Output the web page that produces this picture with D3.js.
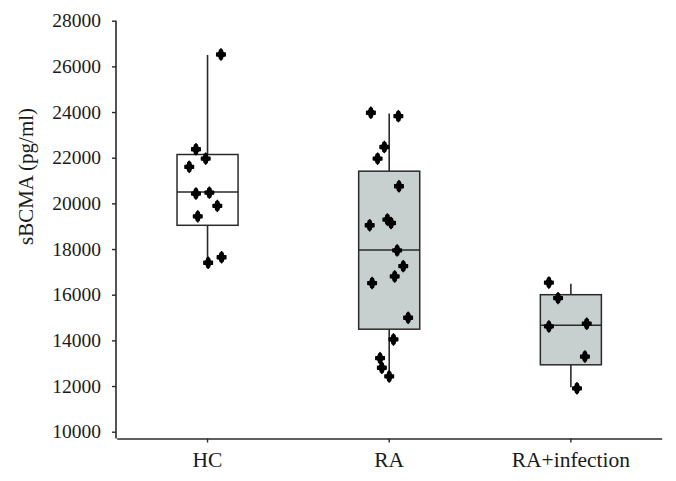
<!DOCTYPE html>
<html>
<head>
<meta charset="utf-8">
<script src="https://cdn.jsdelivr.net/npm/d3@7"></script>
<style>
  html, body { margin: 0; padding: 0; background: #fff; }
  svg { display: block; }
  svg text { font-family: 'Liberation Serif', 'DejaVu Serif', serif !important; fill: #1a1a1a; }
</style>
</head>
<body>
<svg id="chart" width="676" height="481"></svg>
<script>
// ---- data ----
const categories = ["HC", "RA", "RA+infection"];
const boxFill = ["#ffffff", "#c7cfcf", "#c7cfcf"];
const whiskerLow  = [17500, 12380, 11950];
const q1          = [19040, 14490, 12930];
const median      = [20500, 17960, 14660];
const q3          = [22140, 21410, 16000];
const whiskerHigh = [26500, 23940, 16480];

const pointsHC = [26520, 22370, 21960, 21600, 20430, 20470, 19890, 19430, 17400, 17640];
const jitterHC = [0.22, -0.19, -0.03, -0.30, -0.19, 0.03, 0.16, -0.16, 0.01, 0.23];
const pointsRA = [23970, 23820, 22470, 21960, 20750, 19040, 19290, 19140, 17940, 17250, 16800, 16510, 14990, 14040, 13220, 12800, 12420];
const jitterRA = [-0.30, 0.15, -0.08, -0.19, 0.16, -0.32, -0.03, 0.03, 0.13, 0.23, 0.09, -0.28, 0.31, 0.07, -0.15, -0.12, 0.00];
const pointsRAinf = [16530, 15850, 14610, 14730, 13290, 11900];
const jitterRAinf = [-0.36, -0.21, -0.36, 0.26, 0.23, 0.10];

const yTicks = [10000, 12000, 14000, 16000, 18000, 20000, 22000, 24000, 26000, 28000];
const yTitle = "sBCMA (pg/ml)";

// ---- layout ----
const svg = d3.select("#chart");
const axisY = 438.5;
const pad = 0.664;
const x = d3.scaleBand().domain(categories).range([116.7, 661.7])
  .paddingInner(pad).paddingOuter(pad / 2);
const y = d3.scaleLinear().domain([10000, 28000]).range([431.7, 20.7]);
const stroke = "#2a2a2a";
const serif = "'Liberation Serif', 'DejaVu Serif', serif";

const groups = [
  { cat: "HC", pts: pointsHC, jit: jitterHC },
  { cat: "RA", pts: pointsRA, jit: jitterRA },
  { cat: "RA+infection", pts: pointsRAinf, jit: jitterRAinf }
];

// boxes
categories.forEach((c, i) => {
  const cx = x(c) + x.bandwidth() / 2;
  const g = svg.append("g");
  g.append("line").attr("x1", cx).attr("x2", cx)
    .attr("y1", y(whiskerHigh[i])).attr("y2", y(q3[i]))
    .attr("stroke", stroke).attr("stroke-width", 1.6);
  g.append("line").attr("x1", cx).attr("x2", cx)
    .attr("y1", y(q1[i])).attr("y2", y(whiskerLow[i]))
    .attr("stroke", stroke).attr("stroke-width", 1.6);
  g.append("rect").attr("x", x(c)).attr("width", x.bandwidth())
    .attr("y", y(q3[i])).attr("height", y(q1[i]) - y(q3[i]))
    .attr("fill", boxFill[i]).attr("stroke", stroke).attr("stroke-width", 1.5);
  g.append("line").attr("x1", x(c)).attr("x2", x(c) + x.bandwidth())
    .attr("y1", y(median[i])).attr("y2", y(median[i]))
    .attr("stroke", stroke).attr("stroke-width", 1.5);
});

// points
const sym = d3.symbol().type(d3.symbolCross).size(40);
const symD = d3.symbol().type(d3.symbolDiamond).size(36);
groups.forEach(gr => {
  const cx = x(gr.cat) + x.bandwidth() / 2;
  const g = svg.append("g");
  [sym, symD].forEach(s => {
    g.append("g").selectAll("path").data(gr.pts).join("path")
      .attr("d", s)
      .attr("transform", (d, j) => `translate(${cx + gr.jit[j] * x.bandwidth()},${y(d)})`)
      .attr("fill", "#000").attr("stroke", "#000").attr("stroke-width", 1.5)
      .attr("stroke-linejoin", "round");
  });
});

// y axis
const yAxis = svg.append("g").attr("transform", "translate(116,0)")
  .call(d3.axisLeft(y).tickValues(yTicks).tickFormat(d3.format("d")).tickSize(4).tickPadding(11));
yAxis.attr("font-family", serif).attr("font-size", 19.5);
yAxis.select(".domain").remove();
yAxis.selectAll("line").attr("stroke", stroke).attr("stroke-width", 1.4);
yAxis.selectAll("text").attr("font-family", serif).attr("font-size", 19.5);
svg.append("line").attr("x1", 116).attr("x2", 116).attr("y1", y(28000)).attr("y2", axisY)
  .attr("stroke", stroke).attr("stroke-width", 1.6);

// x axis
const xAxis = svg.append("g").attr("transform", `translate(0,${axisY})`)
  .call(d3.axisBottom(x).tickSize(4).tickSizeOuter(0).tickPadding(9));
xAxis.attr("font-family", serif).attr("font-size", 21.5);
xAxis.select(".domain").attr("stroke", stroke).attr("stroke-width", 1.6);
xAxis.selectAll("line").attr("stroke", stroke).attr("stroke-width", 1.4);
xAxis.selectAll("text").attr("font-family", serif).attr("font-size", 21.5);

// y title
svg.append("text").attr("transform", "translate(33,176.5) rotate(-90)")
  .attr("text-anchor", "middle").attr("font-family", serif).attr("font-size", 21).text(yTitle);
</script>
</body>
</html>
